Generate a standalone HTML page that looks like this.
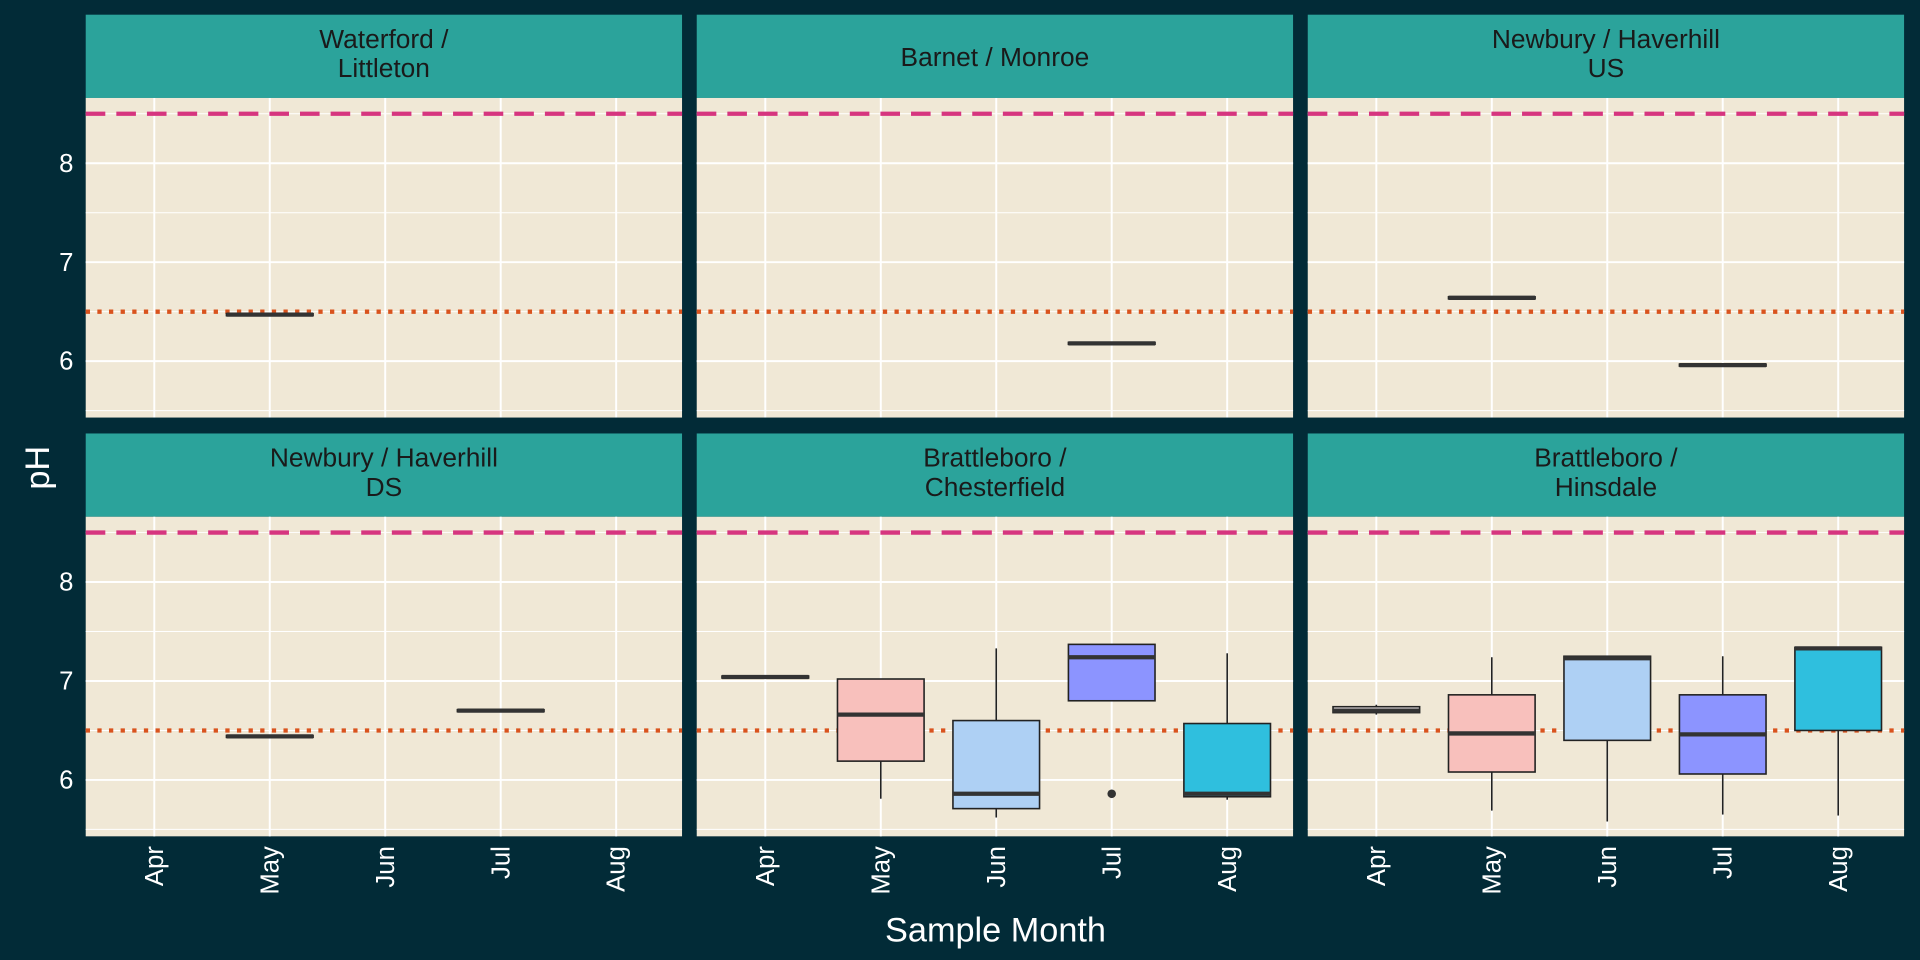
<!DOCTYPE html>
<html><head><meta charset="utf-8"><style>
html,body{margin:0;padding:0;background:#022B37;}
svg{display:block;}
text{font-family:"Liberation Sans",sans-serif;}
</style></head><body>
<svg id="chart" width="1920" height="960" viewBox="0 0 1568 784" xmlns="http://www.w3.org/2000/svg">
<rect x="0" y="0" width="1568" height="784" fill="#022B37"/>
<g id="root"></g>
<text x="813" y="769" text-anchor="middle" font-size="28" fill="#FFFFFF">Sample Month</text>
<text x="0" y="0" transform="translate(40,382) rotate(-90)" text-anchor="middle" font-size="28" fill="#FFFFFF">pH</text>
</svg>
<script>
const months = ["Apr","May","Jun","Jul","Aug"];
const yTicks = [6,7,8];
const panelTitles = [["Waterford /","Littleton"],["Barnet / Monroe"],["Newbury / Haverhill","US"],["Newbury / Haverhill","DS"],["Brattleboro /","Chesterfield"],["Brattleboro /","Hinsdale"]];
const upperLimit = 8.5;
const lowerLimit = 6.5;
// box stats per panel: [month index, lowWhisker, q1, median, q3, highWhisker]
const panel1Boxes = [[1,6.46,6.46,6.47,6.48,6.48]];
const panel2Boxes = [[3,6.17,6.17,6.18,6.19,6.19]];
const panel3Boxes = [[1,6.63,6.63,6.64,6.65,6.65],[3,5.95,5.95,5.96,5.97,5.97]];
const panel4Boxes = [[1,6.43,6.43,6.44,6.45,6.45],[3,6.69,6.69,6.70,6.71,6.71]];
const panel5Boxes = [[0,7.03,7.03,7.04,7.05,7.05],[1,5.81,6.19,6.66,7.02,7.02],[2,5.62,5.71,5.86,6.60,7.33],[3,6.80,6.80,7.24,7.37,7.37],[4,5.80,5.83,5.86,6.57,7.28]];
const panel6Boxes = [[0,6.66,6.68,6.70,6.74,6.76],[1,5.69,6.08,6.47,6.86,7.24],[2,5.58,6.40,7.23,7.25,7.25],[3,5.65,6.06,6.46,6.86,7.25],[4,5.64,6.50,7.33,7.34,7.34]];
const panel5Outliers = [[3,5.86]];
const allBoxes = [panel1Boxes,panel2Boxes,panel3Boxes,panel4Boxes,panel5Boxes,panel6Boxes];
const allOutliers = [[],[],[],[],panel5Outliers,[]];
const fills = ["#F4EEF0","#F8C0BC","#AED0F4","#8C94FF","#2FBFDE"];

const NS="http://www.w3.org/2000/svg";
const root=document.getElementById('root');
function mk(tag,attrs,parent){const e=document.createElementNS(NS,tag);for(const k in attrs)e.setAttribute(k,attrs[k]);(parent||root).appendChild(e);return e;}
const colX=[70,569,1068], colW=487;
const rowTop=[12,354], stripH=68, plotH=261;
const yMin=5.43, yMax=8.66;
const xStep=94.3, xFirst=56;

for(let p=0;p<6;p++){
  const c=p%3, r=Math.floor(p/3);
  const x0=colX[c], sTop=rowTop[r], pTop=sTop+stripH;
  const xs=i=>x0+xFirst+i*xStep;
  const ys=v=>pTop+(yMax-v)/(yMax-yMin)*plotH;
  const g=mk('g',{});
  
  
  const strip=mk('rect',{x:x0,y:sTop,width:colW,height:stripH,fill:'#2BA39B'},g);
  
  
  const t=panelTitles[p];
  t.forEach((line,li)=>{
    const yy=t.length===1?sTop+stripH/2+8:sTop+27+li*24;
    const tx=mk('text',{x:x0+colW/2,y:yy,'text-anchor':'middle','font-size':21.5,fill:'#1A1A1A'},g);
    tx.textContent=line;
    
    
  });
  const bg=mk('rect',{x:x0,y:pTop,width:colW,height:plotH,fill:'#F0E8D6'},g);
  
  
  for(let v=5.5;v<=8.6;v+=0.5){
    mk('line',{x1:x0,x2:x0+colW,y1:ys(v),y2:ys(v),stroke:'#FFFFFF','stroke-width':(v%1===0)?1.6:0.8},g);
  }
  months.forEach((m,i)=>{
    mk('line',{x1:xs(i),x2:xs(i),y1:pTop,y2:pTop+plotH,stroke:'#FFFFFF','stroke-width':1.6},g);
  });
  const ul=mk('line',{x1:x0,x2:x0+colW,y1:ys(upperLimit),y2:ys(upperLimit),stroke:'#D6357F','stroke-width':3.5,'stroke-dasharray':'16,9'},g);
  
  
  const ll=mk('line',{x1:x0,x2:x0+colW,y1:ys(lowerLimit),y2:ys(lowerLimit),stroke:'#D9531E','stroke-width':3.5,'stroke-dasharray':'3.5,6'},g);
  
  
  const hw=0.375*xStep;
  allBoxes[p].forEach(b=>{
    const [mi,lo,q1,md,q3,hi]=b, cx=xs(mi);
    const bx=mk('g',{},g);
    
    
    mk('line',{x1:cx,x2:cx,y1:ys(hi),y2:ys(q3),stroke:'#222','stroke-width':1.3},bx);
    mk('line',{x1:cx,x2:cx,y1:ys(q1),y2:ys(lo),stroke:'#222','stroke-width':1.3},bx);
    mk('rect',{x:cx-hw,y:ys(q3),width:2*hw,height:Math.max(ys(q1)-ys(q3),0.5),fill:fills[mi],stroke:'#222','stroke-width':1.3},bx);
    mk('line',{x1:cx-hw,x2:cx+hw,y1:ys(md),y2:ys(md),stroke:'#333','stroke-width':3.5},bx);
  });
  allOutliers[p].forEach(o=>{
    const pt=mk('circle',{cx:xs(o[0]),cy:ys(o[1]),r:3.5,fill:'#333'},g);
    
    
  });
  if(c===0){
    yTicks.forEach(v=>{
      const tl=mk('text',{x:x0-10,y:ys(v)+7,'text-anchor':'end','font-size':21,fill:'#FFFFFF'});
      tl.textContent=v;
      
      
    });
  }
  if(r===1){
    months.forEach((m,i)=>{
      const tl=mk('text',{x:0,y:0,transform:`translate(${xs(i)+7},${pTop+plotH+8}) rotate(-90)`,'text-anchor':'end','font-size':21,fill:'#FFFFFF'});
      tl.textContent=m;
      
      
    });
  }
}
</script>
</body></html>
